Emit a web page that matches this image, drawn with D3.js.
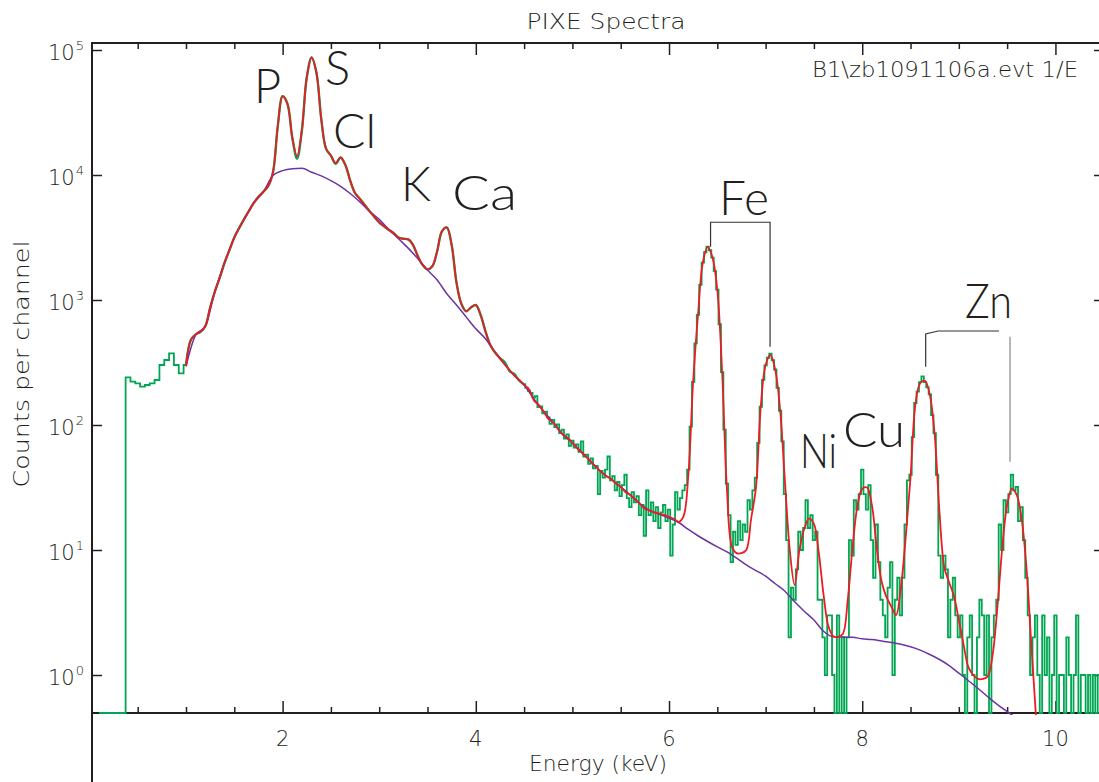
<!DOCTYPE html>
<html>
<head>
<meta charset="utf-8">
<script src="https://cdn.jsdelivr.net/npm/d3@7"></script>
<style>
  html, body { margin: 0; padding: 0; background: #fff; }
  svg { display: block; }
  .small { font-family: "DejaVu Sans", sans-serif; font-weight: 200; fill: #231f20; }
  .big { font-family: Lato, "Open Sans", sans-serif; font-weight: 300; fill: #231f20; }
</style>
</head>
<body>
<div id="chart"></div>
<script>
// measured spectrum (counts per channel), two channel grids
const lowStart = 0.10, lowStep = 0.05;
const lowCounts = [
  0, 0, 0, 0, 0, 0, 240, 222, 215, 203,
  209, 215, 229, 302, 331, 374, 302, 259, 302, 479,
  531, 556, 617, 871, 1175, 1514, 1995, 2512, 3162, 3758,
  4416, 5129, 5957, 6683, 7328, 8128, 10470, 24550, 42660, 37150,
  19950, 13490, 22910, 60260, 87100, 66070, 28180, 16220, 14290, 12300,
  13800, 12020, 9016, 7161, 6457, 5754, 5129, 4624, 4169, 3890,
  3631, 3428, 3162, 3090, 3055, 2754, 2239, 1905, 1758, 1862,
  2455, 3548, 3802, 2754, 1380, 933, 813, 871, 912, 759,
  562, 437, 380, 343, 318, 270, 255, 226
];
const highStart = 4.50, highStep = 0.025;
const highCounts = [
  212, 198, 188, 181, 166, 170, 139, 141, 124, 128,
  115, 102, 110, 96, 101, 86, 92, 78, 84, 68,
  75, 66, 70, 61, 74, 56, 58, 49, 54, 45,
  47, 28, 43, 38, 44, 56, 36, 39, 30, 35,
  27, 33, 40, 26, 22, 29, 24, 27, 19, 23,
  13, 30, 19, 24, 17, 22, 15, 20, 23, 17,
  21, 9, 16, 29, 21, 26, 30, 33, 44, 97,
  221, 450, 761, 1320, 1990, 2410, 2670, 2500, 2180, 1700,
  1210, 640, 265, 92, 34, 19, 8, 14, 11, 17,
  12, 16, 14, 25, 21, 30, 38, 72, 140, 230,
  300, 345, 372, 330, 278, 198, 130, 74, 28, 12,
  2, 5, 4, 7, 14, 10, 15, 25, 15, 19,
  12, 14, 4, 4, 2, 1, 3, 3, 1, 0,
  3, 0, 2, 0, 2, 12, 9, 25, 21, 28,
  44, 28, 21, 33, 12, 6, 16, 8, 4, 3,
  2, 5, 8, 1, 4, 6, 3, 6, 16, 36,
  40, 80, 150, 185, 220, 245, 220, 200, 176, 120,
  86, 40, 9, 6, 9, 7, 2, 4, 6, 3,
  2, 3, 1, 0, 2, 3, 1, 0, 2, 4,
  3, 1, 3, 0, 2, 3, 4, 16, 10, 25,
  20, 28, 40, 30, 32, 17, 22, 12, 6, 3,
  1, 2, 3, 1, 0, 3, 1, 2, 0, 1,
  3, 0, 1, 1, 0, 2, 1, 0, 1, 3,
  0, 1, 1, 0, 1, 0, 1, 0, 1
];

// fitted spectrum (red)
const fitStart = 1.00, fitStep = 0.05;
const fitCounts = [
  295, 479, 531, 556, 617, 871, 1175, 1514, 1995, 2512,
  3162, 3758, 4416, 5129, 5957, 6683, 7328, 8128, 10470, 24550,
  42660, 37150, 19950, 14130, 22910, 60260, 87100, 66070, 28180, 16220,
  14290, 12450, 13800, 12020, 9016, 7161, 6457, 5754, 5129, 4624,
  4169, 3890, 3631, 3428, 3162, 3090, 3055, 2754, 2239, 1905,
  1758, 1862, 2455, 3548, 3802, 2754, 1380, 933, 813, 871,
  912, 759, 562, 437, 380, 343, 305, 275, 248, 229,
  209, 193, 158, 145, 129, 112, 105, 93, 84, 79,
  72, 65, 60, 55, 50, 46, 42, 39, 37, 34,
  32, 29, 27.5, 25.4, 23.4, 21.4, 20.7, 20.0, 19.5, 19.1,
  18.4, 17.8, 16.8, 18.6, 39.8, 224, 759, 1995, 2661, 2188,
  1202, 263, 30.2, 10.7, 9.44, 9.44, 10.0, 17.8, 31.6, 141,
  302, 363, 275, 132, 35.5, 10.0, 5.25, 10.0, 14.8, 17.8,
  16.2, 9.55, 4.37, 2.45, 2.04, 2.02, 2.14, 3.98, 10.5, 22.4,
  30.9, 31.6, 22.9, 10.5, 5.62, 4.22, 3.55, 3.02, 5.01, 12.6,
  38.0, 145, 216, 226, 174, 83.2, 20.0, 7.24, 5.50, 4.27,
  2.75, 1.74, 1.15, 1.00, 0.93, 0.93, 0.98, 1.45, 3.55, 10.5,
  22.9, 30.9, 27.5, 17.8, 7.24, 1.78, 0.45
];

// background (purple)
const bgStart = 1.0, bgStep = 0.1;
const bgCounts = [
  295, 525, 617, 1175, 1995, 3162, 4416, 5957, 7328, 9900,
  10840, 11220, 11300, 10520, 9840, 9016, 8128, 7112, 6095, 5129,
  4416, 3673, 3090, 2600, 2138, 1740, 1445, 1122, 912, 733,
  589, 490, 380, 305, 248, 209, 162, 129, 105, 84,
  72, 60, 50, 42, 37, 32, 27.5, 23.4, 20.7, 19.3,
  18.0, 16.6, 14.6, 13.0, 11.7, 10.6, 9.66, 8.61, 7.59, 6.84,
  6.17, 5.37, 4.68, 3.85, 3.24, 2.75, 2.24, 2.02, 2.01, 2.00,
  1.95, 1.92, 1.87, 1.82, 1.76, 1.68, 1.58, 1.46, 1.33, 1.19,
  1.035, 0.90, 0.78, 0.67, 0.58, 0.51, 0.45
];

const xMajorTicks = [2, 4, 6, 8, 10];
const xMinorTicks = [0.5, 1, 1.5, 2.5, 3, 3.5, 4.5, 5, 5.5, 6.5, 7, 7.5, 8.5, 9, 9.5];
const yExponents = [0, 1, 2, 3, 4, 5];

// element labels: text, energy and counts at the label's baseline start
const elementNames = ["P", "S", "Cl", "K", "Ca", "Fe", "Ni", "Cu", "Zn"];
const elementEnergy = [1.704, 2.439, 2.522, 3.226, 3.754, 6.518, 7.356, 7.801, 9.064];
const elementCounts = [37670, 52480, 16440, 6194, 5248, 4786, 45.3, 66.7, 718];
const elementWidth = [null, null, 43, null, 65, 50, 37, 62, 47];

// K-alpha / K-beta brackets
const feBracket = [[6.43, 2667], [6.43, 4188], [7.046, 4188], [7.046, 423]];
const znBracketLeft = [[8.657, 292], [8.657, 535], [8.785, 565], [9.416, 565]];
const znBracketRight = [[9.53, 509], [9.53, 50.8]];

const W = 1099, H = 782;
const margin = { top: 43, left: 92, bottom: 713, right: 1099 };

const x = d3.scaleLinear().domain([0.027, 10.451]).range([margin.left, margin.right]);
const y = d3.scaleLog().domain([Math.pow(10, -0.304), Math.pow(10, 5.056)]).range([margin.bottom, margin.top]);
const yMin = y.domain()[0];

const toPoints = (start, step, arr) => arr.map((c, i) => ({ e: start + i * step, c: c }));
const lowPts = toPoints(lowStart, lowStep, lowCounts);
const highPts = toPoints(highStart, highStep, highCounts);
// below 1 keV the measured data is drawn as a histogram, the smooth part as a line
const lowNoisy = lowPts.filter(d => d.e < 1.02);
const lowSmooth = lowPts.filter(d => d.e > 0.98).concat(highPts.slice(0, 1));
const fit = toPoints(fitStart, fitStep, fitCounts);
const bg = toPoints(bgStart, bgStep, bgCounts);

const svg = d3.select("#chart").append("svg").attr("width", W).attr("height", H);

svg.append("defs").append("clipPath").attr("id", "plot")
  .append("rect")
  .attr("x", margin.left).attr("y", margin.top)
  .attr("width", margin.right - margin.left).attr("height", margin.bottom - margin.top + 2);

// axes (ticks only, frame drawn separately)
const axisStyle = g => {
  g.select(".domain").remove();
  g.selectAll("line").attr("stroke", "#231f20").attr("stroke-width", 1.5);
};
svg.append("g").attr("transform", `translate(0,${margin.bottom})`)
  .call(d3.axisBottom(x).tickValues(xMinorTicks).tickSize(-6).tickFormat(""))
  .call(axisStyle);
svg.append("g").attr("transform", `translate(0,${margin.bottom})`)
  .call(d3.axisBottom(x).tickValues(xMajorTicks).tickSize(-12).tickFormat(""))
  .call(axisStyle);
svg.append("g").attr("transform", `translate(0,${margin.top})`)
  .call(d3.axisTop(x).tickValues(xMinorTicks).tickSize(-6).tickFormat(""))
  .call(axisStyle);
svg.append("g").attr("transform", `translate(0,${margin.top})`)
  .call(d3.axisTop(x).tickValues(xMajorTicks).tickSize(-12).tickFormat(""))
  .call(axisStyle);
svg.append("g").attr("transform", `translate(${margin.left},0)`)
  .call(d3.axisLeft(y).tickValues(yExponents.map(d => Math.pow(10, d))).tickSize(-10).tickFormat(""))
  .call(axisStyle);
svg.append("g").attr("transform", `translate(${margin.right},0)`)
  .call(d3.axisRight(y).tickValues(yExponents.map(d => Math.pow(10, d))).tickSize(-5).tickFormat(""))
  .call(axisStyle);

// frame
svg.append("line").attr("x1", margin.left).attr("x2", margin.left).attr("y1", margin.top - 1).attr("y2", H)
  .attr("stroke", "#231f20").attr("stroke-width", 2);
svg.append("line").attr("x1", margin.left).attr("x2", W).attr("y1", margin.top).attr("y2", margin.top)
  .attr("stroke", "#231f20").attr("stroke-width", 2);
svg.append("line").attr("x1", margin.left).attr("x2", W).attr("y1", margin.bottom).attr("y2", margin.bottom)
  .attr("stroke", "#231f20").attr("stroke-width", 2);

// tick labels
svg.selectAll("text.xlab").data(xMajorTicks).join("text")
  .attr("class", "small xlab")
  .attr("x", d => x(d)).attr("y", 746)
  .attr("text-anchor", "middle").attr("font-size", 21)
  .text(d => d);

svg.selectAll("text.ylab").data(yExponents).join("text")
  .attr("class", "small ylab")
  .attr("x", 84).attr("y", d => y(Math.pow(10, d)) + 9.5)
  .attr("text-anchor", "end").attr("font-size", 21)
  .each(function(d) {
    const t = d3.select(this);
    t.append("tspan").text("10");
    t.append("tspan").attr("dx", 1).attr("dy", -10).attr("font-size", 13).text(d);
  });

// titles
svg.append("text").attr("class", "small")
  .attr("x", 606).attr("y", 29).attr("text-anchor", "middle").attr("font-size", 22)
  .attr("textLength", 159).attr("lengthAdjust", "spacingAndGlyphs")
  .text("PIXE Spectra");
svg.append("text").attr("class", "small")
  .attr("x", 598).attr("y", 771).attr("text-anchor", "middle").attr("font-size", 22)
  .attr("textLength", 138).attr("lengthAdjust", "spacingAndGlyphs")
  .text("Energy (keV)");
svg.append("text").attr("class", "small")
  .attr("transform", "translate(29,364) rotate(-90)")
  .attr("text-anchor", "middle").attr("font-size", 22)
  .attr("textLength", 247).attr("lengthAdjust", "spacingAndGlyphs")
  .text("Counts per channel");
svg.append("text").attr("class", "small")
  .attr("x", 1078).attr("y", 77).attr("text-anchor", "end").attr("font-size", 22)
  .attr("textLength", 266).attr("lengthAdjust", "spacingAndGlyphs")
  .text("B1\\zb1091106a.evt 1/E");

// spectrum lines
const plot = svg.append("g").attr("clip-path", "url(#plot)");

const stepLine = d3.line()
  .x(d => x(d.e))
  .y(d => y(Math.max(d.c, yMin)))
  .curve(d3.curveStep);
const smoothLine = d3.line()
  .x(d => x(d.e))
  .y(d => y(Math.max(d.c, 0.3)));

const green = "#00a651";
plot.append("path").datum(lowNoisy)
  .attr("d", stepLine).attr("fill", "none")
  .attr("stroke", green).attr("stroke-width", 1.8);
plot.append("path").datum(lowSmooth)
  .attr("d", smoothLine.curve(d3.curveCatmullRom.alpha(0.5))).attr("fill", "none")
  .attr("stroke", green).attr("stroke-width", 2.4);
plot.append("path").datum(highPts)
  .attr("d", stepLine).attr("fill", "none")
  .attr("stroke", green).attr("stroke-width", 1.8);
plot.append("path").datum(bg)
  .attr("d", smoothLine.curve(d3.curveMonotoneX)).attr("fill", "none")
  .attr("stroke", "#6a35a0").attr("stroke-width", 1.5);
plot.append("path").datum(fit)
  .attr("d", smoothLine.curve(d3.curveCatmullRom.alpha(0.5))).attr("fill", "none")
  .attr("stroke", "#ed1c24").attr("stroke-width", 1.8);

// brackets
const bracketLine = d3.line().x(d => x(d[0])).y(d => y(d[1]));
svg.append("path").attr("d", bracketLine(feBracket))
  .attr("fill", "none").attr("stroke", "#333").attr("stroke-width", 1.2);
svg.append("path").attr("d", bracketLine(znBracketLeft))
  .attr("fill", "none").attr("stroke", "#333").attr("stroke-width", 1.2);
svg.append("path").attr("d", bracketLine(znBracketRight))
  .attr("fill", "none").attr("stroke", "#888").attr("stroke-width", 1.2);

// element labels
svg.selectAll("text.el").data(elementNames).join("text")
  .attr("class", "big el")
  .attr("x", (d, i) => x(elementEnergy[i]))
  .attr("y", (d, i) => y(elementCounts[i]))
  .attr("font-size", 47)
  .each(function(d, i) {
    if (elementWidth[i]) {
      d3.select(this).attr("textLength", elementWidth[i]).attr("lengthAdjust", "spacingAndGlyphs");
    }
  })
  .text(d => d);
</script>
</body>
</html>
